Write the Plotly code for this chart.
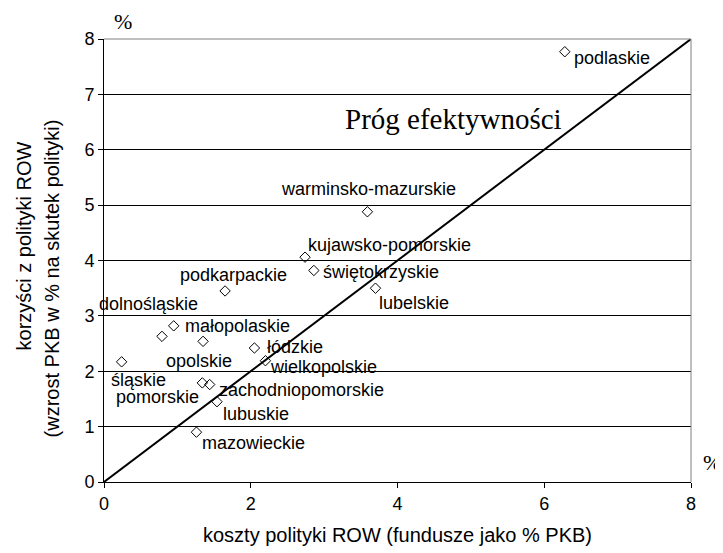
import plotly.graph_objects as go

# ---- data ----
regions = ["podlaskie", "warminsko-mazurskie", "kujawsko-pomorskie", "świętokrzyskie",
           "lubelskie", "podkarpackie", "dolnośląskie", "małopolaskie", "opolskie",
           "łódzkie", "wielkopolskie", "śląskie", "pomorskie", "zachodniopomorskie",
           "lubuskie", "mazowieckie"]
koszty = [6.28, 3.59, 2.74, 2.86, 3.70, 1.65, 0.79, 0.95, 1.35, 2.05, 2.20, 0.24, 1.34, 1.44, 1.54, 1.26]
korzysci = [7.77, 4.88, 4.06, 3.82, 3.50, 3.45, 2.63, 2.82, 2.54, 2.42, 2.19, 2.17, 1.79, 1.76, 1.45, 0.90]
prog_x = [0, 8]
prog_y = [0, 8]
x_ticks = [0, 2, 4, 6, 8]
y_ticks = [0, 1, 2, 3, 4, 5, 6, 7, 8]

# label placement (anchor, xshift px, yshift px) - styling only
label_pos = {
    "podlaskie": ("left", 7, -6),
    "warminsko-mazurskie": ("center", 1, 23),
    "kujawsko-pomorskie": ("left", 1, 12),
    "świętokrzyskie": ("left", 7, -2),
    "lubelskie": ("left", 2, -15),
    "podkarpackie": ("center", 8, 16),
    "dolnośląskie": ("center", -13, 32),
    "małopolaskie": ("left", 9, 0),
    "opolskie": ("center", -4, -20),
    "łódzkie": ("left", 11, 1),
    "wielkopolskie": ("left", 3, -6),
    "śląskie": ("center", 17, -18),
    "pomorskie": ("right", -1, -14),
    "zachodniopomorskie": ("left", 7, -5),
    "lubuskie": ("left", 4, -12),
    "mazowieckie": ("left", 4, -11),
}

SANS = "Liberation Sans, Arial, sans-serif"
SERIF = "Liberation Serif, Times New Roman, serif"

fig = go.Figure()
fig.add_trace(go.Scatter(x=prog_x, y=prog_y, mode="lines",
                         line=dict(color="black", width=2), hoverinfo="skip",
                         showlegend=False))
fig.add_trace(go.Scatter(x=koszty, y=korzysci, mode="markers", text=regions,
                         marker=dict(symbol="diamond-open", size=8, color="black",
                                     line=dict(width=1, color="black")),
                         showlegend=False))

annotations = []
for name, xv, yv in zip(regions, koszty, korzysci):
    anc, xs, ys = label_pos[name]
    annotations.append(dict(x=xv, y=yv, xref="x", yref="y", text=name, showarrow=False,
                            xanchor=anc, yanchor="middle", xshift=xs, yshift=ys,
                            font=dict(family=SANS, size=18, color="black")))

annotations += [
    dict(x=3.26, y=6.55, xref="x", yref="y", text="Próg efektywności", showarrow=False,
         xanchor="left", yanchor="middle", font=dict(family=SERIF, size=29, color="black")),
    dict(x=0.032, y=1.039, xref="paper", yref="paper", text="%", showarrow=False,
         xanchor="center", yanchor="middle", font=dict(family=SERIF, size=22, color="black")),
    dict(x=1.036, y=0.044, xref="paper", yref="paper", text="%", showarrow=False,
         xanchor="center", yanchor="middle", font=dict(family=SERIF, size=22, color="black")),
    dict(x=0.5, y=-0.119, xref="paper", yref="paper",
         text="koszty polityki ROW (fundusze jako % PKB)", showarrow=False,
         xanchor="center", yanchor="middle", font=dict(family=SANS, size=20, color="black")),
    dict(x=-0.136, y=0.532, xref="paper", yref="paper", text="korzyści z polityki ROW",
         showarrow=False, textangle=-90, xanchor="center", yanchor="middle",
         font=dict(family=SANS, size=20, color="black")),
    dict(x=-0.089, y=0.459, xref="paper", yref="paper",
         text="(wzrost PKB w % na skutek polityki)",
         showarrow=False, textangle=-90, xanchor="center", yanchor="middle",
         font=dict(family=SANS, size=20, color="black")),
]

fig.update_layout(
    width=723, height=553,
    margin=dict(l=96, r=40, t=31, b=79),
    paper_bgcolor="white", plot_bgcolor="white",
    annotations=annotations,
    shapes=[
        dict(type="line", xref="paper", yref="paper", x0=0, x1=1, y0=1, y1=1,
             line=dict(color="#808080", width=1), layer="above"),
        dict(type="line", xref="paper", yref="paper", x0=1, x1=1, y0=0, y1=1,
             line=dict(color="#808080", width=1), layer="above"),
    ],
    xaxis=dict(range=[0, 8], tickvals=x_ticks, showgrid=False, zeroline=False,
               showline=True, linecolor="black", linewidth=1,
               ticks="outside", ticklen=5, tickcolor="black",
               tickfont=dict(family=SANS, size=18, color="black")),
    yaxis=dict(range=[0, 8], tickvals=y_ticks, showgrid=True, gridcolor="black", gridwidth=1,
               zeroline=False, showline=True, linecolor="black", linewidth=1,
               ticks="outside", ticklen=5, tickcolor="black",
               tickfont=dict(family=SANS, size=18, color="black")),
)

fig.write_html("out.html")
